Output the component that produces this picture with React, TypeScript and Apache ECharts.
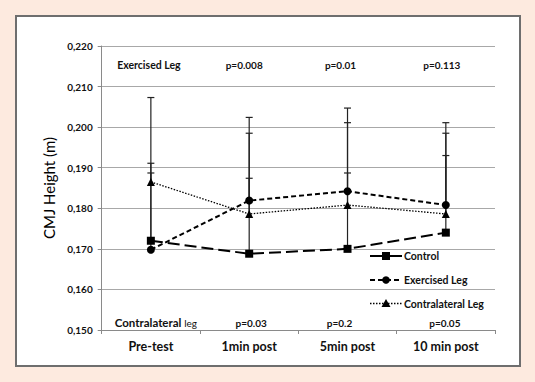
import React, { useEffect, useRef } from "react";
import * as echarts from "echarts";

const categories = ["Pre-test", "1min post", "5min post", "10 min post"];
const controlMean = [0.172, 0.1688, 0.170, 0.174];
const exercisedMean = [0.1698, 0.1819, 0.1842, 0.1808];
const contraMean = [0.1865, 0.1786, 0.1808, 0.1786];
const controlUpper = [0.1911, 0.1874, 0.1887, 0.193];
const exercisedUpper = [0.1887, 0.2024, 0.2047, 0.2011];
const contraUpper = [0.2073, 0.1985, 0.2011, 0.1985];
const topNotes = ["Exercised Leg", "p=0.008", "p=0.01", "p=0.113"];
const bottomNotes = ["Contralateral leg", "p=0.03", "p=0.2", "p=0.05"];
const topNoteValue = 0.2153;
const bottomNoteValue = 0.1518;
const yTicks = { min: 0.15, max: 0.22, interval: 0.01 };
const seriesNames = ["Control", "Exercised Leg", "Contralateral Leg"];

// layout-only horizontal nudges for annotation labels (px)
const topDx = [-2, -5, -7, -4];
const bottomDx = [5, 2, -8, -1];

const FONT = "Lato, 'Open Sans', sans-serif";

export default function App() {
  const ref = useRef<HTMLDivElement>(null);
  useEffect(() => {
    document.body.style.margin = "0";
    const chart = echarts.init(ref.current!, undefined, { renderer: "svg" });
    const errData = (mean: number[], up: number[]) => mean.map((m, i) => [i, m, up[i]]);
    const errorSeries = (name: string, mean: number[], up: number[]) => ({
      type: "custom",
      name: name + " SD",
      data: errData(mean, up),
      encode: { x: 0, y: [1, 2] },
      z: 1,
      silent: true,
      renderItem: (params: any, api: any) => {
        const x = api.value(0);
        const p1 = api.coord([x, api.value(1)]);
        const p2 = api.coord([x, api.value(2)]);
        const st = { stroke: "#222", lineWidth: 1.2 };
        return {
          type: "group",
          children: [
            { type: "line", shape: { x1: p1[0], y1: p1[1], x2: p2[0], y2: p2[1] }, style: st },
            { type: "line", shape: { x1: p2[0] - 3.5, y1: p2[1], x2: p2[0] + 3.5, y2: p2[1] }, style: st },
          ],
        };
      },
    });

    const lx = 370, lx2 = 402, lyc = [256, 280, 303.5];
    const legendGraphics: any[] = [];
    const dashes: any[] = [null, [5, 3], [1.5, 1.5]];
    seriesNames.forEach((n, i) => {
      const y = lyc[i];
      legendGraphics.push({
        type: "line",
        shape: { x1: lx, y1: y, x2: lx2, y2: y },
        style: { stroke: "#000", lineWidth: i === 2 ? 1.3 : 2, lineDash: dashes[i] },
        z: 10,
      });
      const cx = 386;
      if (i === 0) legendGraphics.push({ type: "rect", shape: { x: cx - 4, y: y - 4, width: 8, height: 8 }, style: { fill: "#000" }, z: 11 });
      if (i === 1) legendGraphics.push({ type: "circle", shape: { cx, cy: y, r: 3.8 }, style: { fill: "#000" }, z: 11 });
      if (i === 2) legendGraphics.push({ type: "polygon", shape: { points: [[cx, y - 4.5], [cx + 4.5, y + 3.5], [cx - 4.5, y + 3.5]] }, style: { fill: "#000" }, z: 11 });
      legendGraphics.push({
        type: "text",
        x: 404,
        y: y,
        style: { text: n, fill: "#111", font: `bold 10.5px ${FONT}`, verticalAlign: "middle", align: "left" },
        z: 11,
      });
    });

    chart.setOption({
      animation: false,
      backgroundColor: "transparent",
      textStyle: { fontFamily: FONT },
      grid: { left: 101.7, right: 40, top: 46, bottom: 52 },
      xAxis: {
        type: "category",
        data: categories,
        boundaryGap: true,
        axisLine: { lineStyle: { color: "#8a8a8a", width: 1 } },
        axisTick: { show: true, length: 4, lineStyle: { color: "#8a8a8a" } },
        axisLabel: { color: "#111", fontWeight: "bold", fontSize: 12.5, fontFamily: FONT, margin: 10 },
        splitLine: { show: false },
      },
      yAxis: {
        type: "value",
        min: yTicks.min,
        max: yTicks.max,
        interval: yTicks.interval,
        name: "CMJ Height (m)",
        nameLocation: "middle",
        nameGap: 41,
        nameTextStyle: { fontSize: 15, color: "#000", fontFamily: FONT },
        axisLine: { show: true, lineStyle: { color: "#8a8a8a", width: 1 } },
        axisTick: { show: true, length: 4, lineStyle: { color: "#8a8a8a" } },
        axisLabel: {
          color: "#111",
          fontWeight: "bold",
          fontSize: 10,
          fontFamily: FONT,
          margin: 9,
          formatter: (v: number) => v.toFixed(3).replace(".", ","),
        },
        splitLine: { show: true, lineStyle: { color: "#a8a8a8", width: 1 } },
      },
      series: [
        errorSeries("Control", controlMean, controlUpper),
        errorSeries("Exercised Leg", exercisedMean, exercisedUpper),
        errorSeries("Contralateral Leg", contraMean, contraUpper),
        {
          type: "line",
          name: seriesNames[0],
          data: controlMean,
          symbol: "rect",
          symbolSize: 8,
          z: 3,
          lineStyle: { color: "#000", width: 2, type: [12, 5] },
          itemStyle: { color: "#000" },
        },
        {
          type: "line",
          name: seriesNames[1],
          data: exercisedMean,
          symbol: "circle",
          symbolSize: 8,
          z: 3,
          lineStyle: { color: "#000", width: 2, type: [5, 3] },
          itemStyle: { color: "#000" },
        },
        {
          type: "line",
          name: seriesNames[2],
          data: contraMean,
          symbol: "triangle",
          symbolSize: 8,
          z: 3,
          lineStyle: { color: "#000", width: 1.3, type: [1.5, 1.5] },
          itemStyle: { color: "#000" },
        },
      ],
    });

    const noteGraphics: any[] = [];
    const addNotes = (notes: string[], value: number, dx: number[], bottom: boolean) => {
      notes.forEach((t, i) => {
        const p = chart.convertToPixel({ gridIndex: 0 }, [i, value]) as number[];
        let style: any;
        if (i === 0 && bottom) {
          const parts = t.split(" ");
          style = {
            text: "{a|" + parts[0] + "} {b|" + parts[1] + "}",
            rich: {
              a: { font: `bold 11.5px ${FONT}`, fill: "#111" },
              b: { font: `normal 10px ${FONT}`, fill: "#111" },
            },
            fill: "#111",
            font: `bold 11.5px ${FONT}`,
          };
        } else {
          style = { text: t, fill: "#111", font: `bold ${i === 0 ? 10.5 : 10}px ${FONT}` };
        }
        noteGraphics.push({
          type: "text",
          x: p[0] + dx[i],
          y: p[1],
          style: { ...style, align: "center", verticalAlign: "middle" },
          z: 11,
        });
      });
    };
    addNotes(topNotes, topNoteValue, topDx, false);
    addNotes(bottomNotes, bottomNoteValue, bottomDx, true);
    chart.setOption({ graphic: [...legendGraphics, ...noteGraphics] });

    return () => chart.dispose();
  }, []);

  return (
    <div style={{ position: "fixed", left: 0, top: 0, width: 535, height: 382, background: "#fdeadf" }}>
      <div
        style={{
          position: "absolute",
          left: 15,
          top: 15,
          width: 502,
          height: 348,
          background: "#fff",
          border: "2px solid #6e6e6e",
        }}
      />
      <div ref={ref} style={{ position: "absolute", left: 0, top: 0, width: 535, height: 382 }} />
    </div>
  );
}
